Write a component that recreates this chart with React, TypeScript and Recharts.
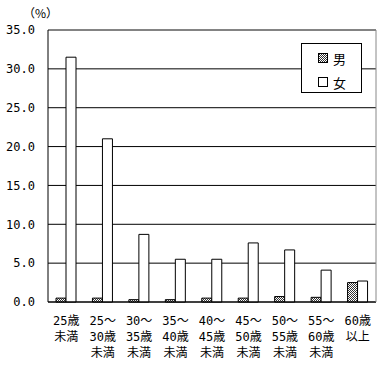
import React from "react";
import {
  Bar,
  BarChart,
  CartesianGrid,
  XAxis,
  YAxis,
} from "recharts";

const categories = [
  "25歳\n未満",
  "25～\n30歳\n未満",
  "30～\n35歳\n未満",
  "35～\n40歳\n未満",
  "40～\n45歳\n未満",
  "45～\n50歳\n未満",
  "50～\n55歳\n未満",
  "55～\n60歳\n未満",
  "60歳\n以上",
];
const male = [0.5, 0.5, 0.3, 0.3, 0.5, 0.5, 0.7, 0.6, 2.5];
const female = [31.5, 21.0, 8.7, 5.5, 5.5, 7.6, 6.7, 4.1, 2.7];
const yTicks = [0, 5, 10, 15, 20, 25, 30, 35];
const legendItems = [
  { key: "male", label: "男", fill: "url(#hatch)" },
  { key: "female", label: "女", fill: "#fff" },
];

const data = categories.map((c, i) => ({ cat: c, male: male[i], female: female[i] }));

const FONT = "'DejaVu Sans Mono', 'Noto Sans CJK JP', monospace";
const CJK = "'Noto Sans CJK JP', sans-serif";

function CatTick({ x, y, payload }: { x?: number; y?: number; payload?: { value: string } }) {
  const lines = String(payload?.value ?? "").split("\n");
  return (
    <text x={x} y={(y ?? 0) + 15} textAnchor="middle" fontSize={12} fontFamily={FONT} fill="#000">
      {lines.map((l, i) => (
        <tspan key={i} x={x} dy={i === 0 ? 0 : 16}>
          {l}
        </tspan>
      ))}
    </text>
  );
}

function LegendBox() {
  return (
    <div
      style={{
        position: "absolute",
        left: 301,
        top: 43,
        width: 61,
        height: 50,
        border: "1px solid #000",
        background: "#fff",
        fontFamily: FONT,
        fontSize: 13,
        boxSizing: "border-box",
        paddingTop: 5,
        paddingLeft: 16,
      }}
    >
      {legendItems.map((it, i) => (
        <div key={it.key} style={{ display: "flex", alignItems: "center", height: 18, marginTop: i ? 6 : 0 }}>
          <svg width={10} height={10} style={{ marginRight: 5 }}>
            <rect x={0.5} y={0.5} width={9} height={9} fill={it.fill} stroke="#000" />
          </svg>
          {it.label}
        </div>
      ))}
    </div>
  );
}

export default function App() {
  return (
    <div style={{ position: "absolute", left: 0, top: 0, width: 386, height: 369, background: "#fff" }}>
      <div style={{ position: "absolute", left: 23, top: 3, fontFamily: CJK, fontSize: 12, lineHeight: "20px" }}>
        （%）
      </div>
      <BarChart
        width={386}
        height={369}
        data={data}
        margin={{ top: 29, right: 9, bottom: 0, left: 0 }}
        barGap={0}
      >
        <defs>
          <pattern id="hatch" width="2" height="2" patternUnits="userSpaceOnUse">
            <rect width="2" height="2" fill="#fff" />
            <rect width="1" height="1" fill="#333" />
            <rect x="1" y="1" width="1" height="1" fill="#333" />
          </pattern>
        </defs>
        <CartesianGrid stroke="#000" vertical={false} />
        <XAxis
          dataKey="cat"
          interval={0}
          height={67}
          tickLine={false}
          axisLine={{ stroke: "#000" }}
          tick={<CatTick />}
        />
        <XAxis xAxisId="top" dataKey="cat" orientation="top" height={1} tick={false} tickLine={false} axisLine={{ stroke: "#888" }} />
        <YAxis
          width={48}
          domain={[0, 35]}
          ticks={yTicks}
          interval={0}
          tickLine={false}
          axisLine={{ stroke: "#000" }}
          tickFormatter={(v: number) => v.toFixed(1)}
          tick={{ fontSize: 12, fontFamily: FONT, fill: "#000" }}
          tickMargin={7}
        />
        <YAxis yAxisId="right" orientation="right" width={1} domain={[0, 35]} tick={false} tickLine={false} axisLine={{ stroke: "#888" }} />
        <Bar dataKey="male" name="男" fill="url(#hatch)" stroke="#000" strokeWidth={1} barSize={10} isAnimationActive={false} />
        <Bar dataKey="female" name="女" fill="#fff" stroke="#000" strokeWidth={1} barSize={10} isAnimationActive={false} />
      </BarChart>
      <LegendBox />
    </div>
  );
}
